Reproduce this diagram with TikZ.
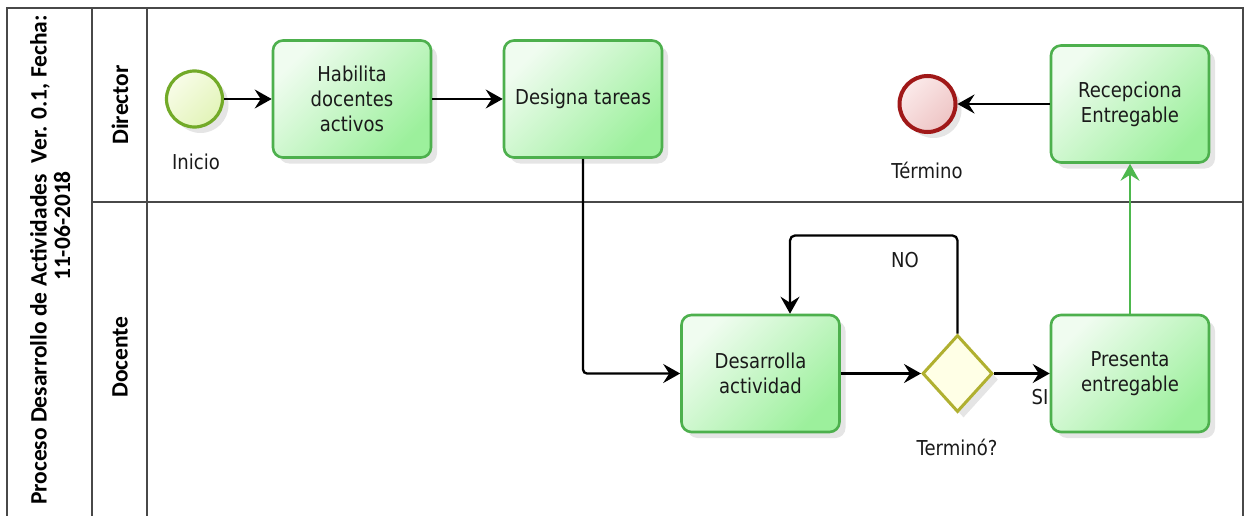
\documentclass[tikz,border=0pt]{standalone}
\usepackage{fontspec}
\setmainfont{DejaVu Sans}[FakeStretch=0.88]
\newfontfamily\lanefont{Carlito}
\usetikzlibrary{arrows.meta,shadows,shapes.geometric}
\pgfdeclarelayer{ghost}
\pgfsetlayers{ghost,main}

% palette
\definecolor{taskline}{HTML}{4DB04D}
\definecolor{tasktop}{HTML}{F0FCF0}
\definecolor{taskbot}{HTML}{9CF09C}
\definecolor{startline}{HTML}{72AA28}
\definecolor{starttop}{HTML}{F8FCE8}
\definecolor{startbot}{HTML}{E2F4B8}
\definecolor{endline}{HTML}{A01818}
\definecolor{endtop}{HTML}{FBEAEA}
\definecolor{endbot}{HTML}{EEC4C4}
\definecolor{gateline}{HTML}{B0B030}
\definecolor{gatefill}{HTML}{FFFFE6}
\definecolor{poolline}{HTML}{484848}
\definecolor{flowgreen}{HTML}{4DB84D}
\definecolor{inktext}{HTML}{1A1A1A}

\tikzset{
  softshadow/.style={drop shadow={shadow xshift=6pt, shadow yshift=-6pt, opacity=0.10, fill=black}},
  task/.style={rectangle, rounded corners=10pt, draw=taskline, line width=2.6pt,
    top color=tasktop, bottom color=taskbot, shading angle=45,
    minimum width=158pt, minimum height=117pt, inner sep=2pt, align=center,
    text=inktext, font=\fontsize{20.5}{25}\selectfont, softshadow},
  startev/.style={circle, inner sep=0pt, minimum size=56pt, line width=3.2pt,
    draw=startline, top color=starttop, bottom color=startbot, shading angle=45, softshadow},
  endev/.style={circle, inner sep=0pt, minimum size=56pt, line width=4pt,
    draw=endline, top color=endtop, bottom color=endbot, shading angle=45, softshadow},
  gate/.style={diamond, inner sep=0pt, minimum width=70pt, minimum height=77pt,
    line width=3pt, draw=gateline, fill=gatefill, softshadow},
  lbl/.style={inner sep=1pt, text=inktext, font=\fontsize{20.5}{25}\selectfont},
  lanelbl/.style={rotate=90, inner sep=0pt, font=\lanefont\bfseries\fontsize{23.5}{22}\selectfont},
  pool/.style={draw=poolline, line width=2pt},
  tip/.style={-{Stealth[length=17pt,width=19pt,inset=6pt]}},
  flow/.style={draw=black, line width=2.3pt, tip},
  greenflow/.style={draw=flowgreen, line width=1.8pt, tip},
  ghostflow/.style={draw=black!7, line width=2pt, tip},
}

\begin{document}
\begin{tikzpicture}[x=1pt, y=-1pt]
\useasboundingbox (0,0) rectangle (1247,516);
\fill[white] (0,0) rectangle (1247,516);

% pool and lanes
\draw[pool] (7,540) -- (7,8) -- (1243,8) -- (1243,540);
\draw[pool] (92,8) -- (92,540);
\draw[pool] (147,8) -- (147,540);
\draw[pool] (92,202) -- (1243,202);

\node[lanelbl] (titleA) at (40,260) {Proceso Desarrollo de Actividades\ \ Ver. 0.1, Fecha:};
\node[lanelbl] (titleB) at (62,226) {11-06-2018};
\node[lanelbl] (laneDir) at (120,105) {Director};
\node[lanelbl] (laneDoc) at (120,357) {Docente};

% flow objects
\node[startev] (inicio) at (194.5,99) {};
\node[lbl] (inicioL) at (196,162) {Inicio};
\node[task] (habilita) at (352,99) {Habilita\\docentes\\activos};
\node[task] (designa) at (583,99) {Designa tareas};
\node[task] (recep) at (1130,104) {Recepciona\\Entregable};
\node[endev] (termino) at (927.5,104) {};
\node[lbl] (terminoL) at (927,170) {Término};
\node[task] (desarr) at (760.5,373.5) {Desarrolla\\actividad};
\node[gate] (gw) at (957.5,373.5) {};
\node[lbl] (gwL) at (957,447) {Terminó?};
\node[task] (presenta) at (1130,373.5) {Presenta\\entregable};
\node[lbl] (noL) at (905,260) {NO};
\node[lbl] (siL) at (1040,397) {SI};

% faint offset copies of the sequence flows
\begin{pgfonlayer}{ghost}
\begin{scope}[transform canvas={shift={(18pt,-18pt)}}]
  \draw[ghostflow] (inicio.east) -- (habilita.west);
  \draw[ghostflow] (habilita.east) -- (designa.west);
  \draw[ghostflow, rounded corners=4pt] (designa.south) |- (desarr.west);
  \draw[ghostflow, rounded corners=5pt] (gw.north) -- ++(0,-98) -| ([xshift=29.5pt]desarr.north);
  \draw[ghostflow] (presenta.north) -- (recep.south);
  \draw[ghostflow] (recep.west) -- (termino.east);
\end{scope}
\end{pgfonlayer}

% sequence flows
\draw[flow] (inicio.east) -- (habilita.west);
\draw[flow] (habilita.east) -- (designa.west);
\draw[flow, rounded corners=4pt] (designa.south) |- (desarr.west);
\draw[flow] (desarr.east) -- (gw.west);
\draw[flow] (gw.east) -- (presenta.west);
\draw[flow, rounded corners=5pt] (gw.north) -- ++(0,-98) -| ([xshift=29.5pt]desarr.north);
\draw[greenflow] (presenta.north) -- (recep.south);
\draw[flow] (recep.west) -- (termino.east);
\end{tikzpicture}
\end{document}
